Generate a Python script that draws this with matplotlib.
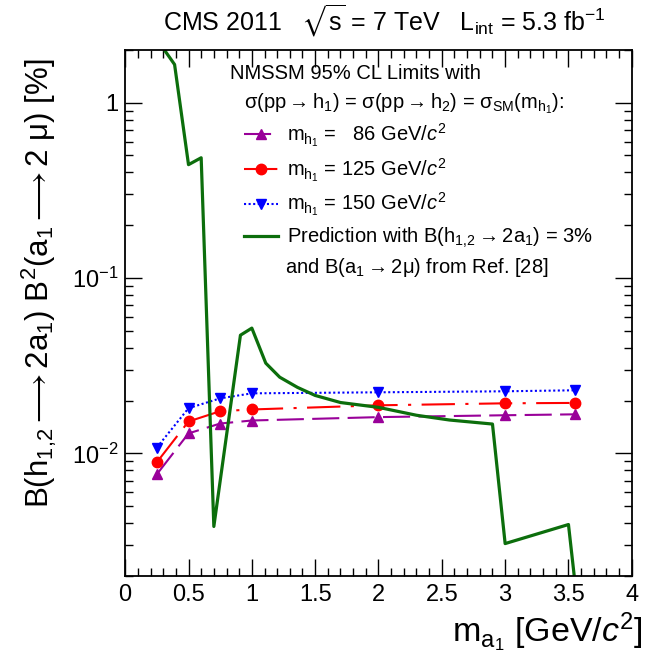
import matplotlib
matplotlib.use('Agg')
import matplotlib.pyplot as plt
from matplotlib.ticker import FixedLocator, MultipleLocator, LogLocator, NullFormatter, FixedFormatter

plt.rcParams['font.family'] = ['Liberation Sans', 'DejaVu Sans']
plt.rcParams['mathtext.fontset'] = 'custom'
plt.rcParams['mathtext.rm'] = 'Liberation Sans'
plt.rcParams['mathtext.it'] = 'Liberation Sans:italic'
plt.rcParams['mathtext.bf'] = 'Liberation Sans:bold'
plt.rcParams['mathtext.default'] = 'regular'
plt.rcParams['mathtext.fallback'] = 'stixsans'

# limits for the three h1 masses
ma = [0.25, 0.5, 0.75, 1.0, 2.0, 3.0, 3.55]
lim_86 = [0.0076, 0.0130, 0.0148, 0.0154, 0.0161, 0.0165, 0.0167]
lim_125 = [0.0089, 0.0152, 0.0174, 0.0178, 0.0188, 0.0193, 0.0194]
lim_150 = [0.0108, 0.0181, 0.0206, 0.0220, 0.0223, 0.0226, 0.0229]

# NMSSM prediction
pred_x = [0.25, 0.39, 0.5, 0.6, 0.7, 0.91, 1.0, 1.11, 1.22, 1.36, 1.5, 1.7,
          2.0, 2.3, 2.56, 2.9, 3.0, 3.5, 3.58]
pred_y = [2.3, 1.65, 0.443, 0.485, 0.00383, 0.0472, 0.0518, 0.0327, 0.0272,
          0.0238, 0.0214, 0.0195, 0.0183, 0.0165, 0.0155, 0.0147, 0.00306,
          0.00393, 0.0012]

xticks = [0, 0.5, 1, 1.5, 2, 2.5, 3, 3.5, 4]
xtick_labels = ['0', '0.5', '1', '1.5', '2', '2.5', '3', '3.5', '4']
yticks = [0.01, 0.1, 1]
ytick_labels = ['$10^{-2}$', '$10^{-1}$', '1']

fig = plt.figure(figsize=(6.52, 6.56), dpi=100)
ax = fig.add_axes([0.192, 0.122, 0.777, 0.802])

l86, = ax.plot(ma, lim_86, color='#990099', ls=(0, (13, 4)), lw=1.5,
               marker='^', ms=7, label=r'm$_{h_1}$ =   86 GeV/$\it{c}^2$')
l125, = ax.plot(ma, lim_125, color='#ff0000', ls=(0, (16, 5, 1.5, 5)), lw=1.5,
                marker='o', ms=7.5, label=r'm$_{h_1}$ = 125 GeV/$\it{c}^2$')
l150, = ax.plot(ma, lim_150, color='#0000ff', ls=(0, (1, 1.2)), lw=1.5,
                marker='v', ms=7, label=r'm$_{h_1}$ = 150 GeV/$\it{c}^2$')
lp, = ax.plot(pred_x, pred_y, color='#0c6e0c', lw=2.3,
              label=r'Prediction with B(h$_{1{,}2}$$\rightarrow$2a$_1$) = 3%')

ax.set_yscale('log')
ax.set_xlim(0, 4)
ax.set_ylim(0.002, 2)

ax.xaxis.set_major_locator(FixedLocator(xticks))
ax.xaxis.set_major_formatter(FixedFormatter(xtick_labels))
ax.xaxis.set_minor_locator(MultipleLocator(0.1))
ax.yaxis.set_major_locator(FixedLocator(yticks))
ax.yaxis.set_major_formatter(FixedFormatter(ytick_labels))
ax.yaxis.set_minor_locator(LogLocator(base=10, subs=range(2, 10)))
ax.yaxis.set_minor_formatter(NullFormatter())

ax.tick_params(which='both', direction='in', top=True, right=True, width=1.0)
ax.tick_params(which='major', length=12, labelsize=17)
ax.tick_params(which='minor', length=6)
ax.tick_params(axis='x', which='major', pad=6)
ax.tick_params(axis='y', which='major', pad=5)
for s in ax.spines.values():
    s.set_linewidth(1.3)

ax.set_xlabel(r'm$_{a_1}$ [GeV/$\it{c}^2$]', fontsize=24.5, loc='right')
ax.xaxis.set_label_coords(1.022, -0.066)
ax.set_ylabel(r'B(h$_{1{,}2}$$\longrightarrow$2a$_1$) B$^2$(a$_1$$\longrightarrow$2 μ) [%]',
              fontsize=22.5, loc='top')
ax.yaxis.set_label_coords(-0.13, 0.985)

fig.text(0.589, 0.968, r'CMS 2011   $\sqrt{s}$ = 7 TeV   L$_{int}$ = 5.3 fb$^{-1}$',
         fontsize=18, ha='center', va='center')

# legend block
ax.text(0.207, 0.955, 'NMSSM 95% CL Limits with', transform=ax.transAxes,
        fontsize=14.5, va='center')
ax.text(0.235, 0.898,
        r'σ(pp$\rightarrow$h$_1$) = σ(pp$\rightarrow$h$_2$) = σ$_{SM}$(m$_{h_1}$):',
        transform=ax.transAxes, fontsize=14.5, va='center')
ax.legend(handles=[l86, l125, l150, lp], loc='upper left',
          bbox_to_anchor=(0.234, 0.864), frameon=False, fontsize=14.5,
          handlelength=1.7, handletextpad=0.45, labelspacing=0.36,
          borderaxespad=0, borderpad=0)
ax.text(0.316, 0.587, r'and B(a$_1$$\rightarrow$2μ) from Ref. [28]', transform=ax.transAxes,
        fontsize=14.5, va='center')

fig.savefig('out.png', dpi=100)
